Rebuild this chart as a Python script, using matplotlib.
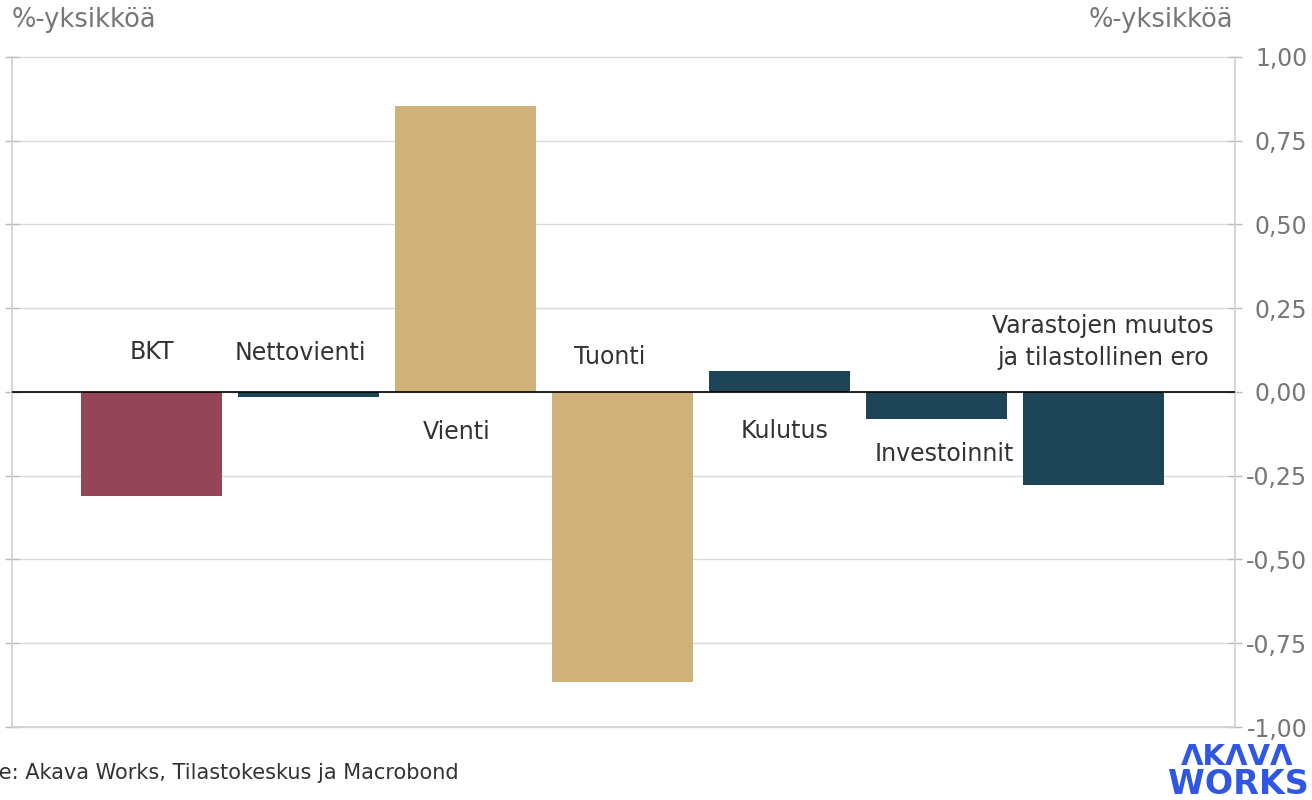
import matplotlib
matplotlib.use("Agg")
import matplotlib.pyplot as plt

categories = ["BKT", "Nettovienti", "Vienti", "Tuonti", "Kulutus", "Investoinnit",
              "Varastojen muutos\nja tilastollinen ero"]
values = [-0.31, -0.015, 0.854, -0.866, 0.063, -0.08, -0.278]
colors = ["#944558", "#1D4557", "#CFB27A", "#CFB27A", "#1D4557", "#1D4557", "#1D4557"]
yticks = [1.0, 0.75, 0.5, 0.25, 0.0, -0.25, -0.5, -0.75, -1.0]
ytick_labels = ["1,00", "0,75", "0,50", "0,25", "0,00", "-0,25", "-0,50", "-0,75", "-1,00"]
# label placement: (x offset, y value, vertical alignment)
label_pos = [(0.0, 0.085, "bottom"), (-0.05, 0.08, "bottom"), (-0.06, -0.085, "top"),
             (-0.08, 0.07, "bottom"), (0.03, -0.08, "top"), (0.05, -0.15, "top"),
             (0.06, 0.065, "bottom")]

plt.rcParams['font.family'] = ['DejaVu Sans']
fig = plt.figure(figsize=(13.12, 8), dpi=100)
W, H = 1312, 800
x0, x1 = 12, 1235
y0, y1 = 57, 727
ax = fig.add_axes([x0 / W, 1 - y1 / H, (x1 - x0) / W, (y1 - y0) / H])

xs = list(range(len(categories)))
ax.bar(xs, values, width=0.9, color=colors, zorder=2)
ax.set_xlim(-0.89, 6.9)
ax.set_ylim(-1.0, 1.0)
ax.axhline(0, color="black", lw=1.2, zorder=3)

for x, lab, (dx, yv, va) in zip(xs, categories, label_pos):
    ax.text(x + dx, yv, lab, ha="center", va=va, fontsize=17, color="#333333",
            linespacing=1.45, zorder=4)

ax.set_yticks(yticks)
ax.set_yticklabels(ytick_labels, ha="right")
ax.yaxis.tick_right()
ax.tick_params(axis="y", which="both", direction="inout", length=10, width=1,
               color="#bbbbbb", labelsize=17, labelcolor="#777777", pad=47,
               left=True)
ax.tick_params(axis="x", bottom=False, labelbottom=False)
ax.grid(axis="y", color="#d9d9d9", lw=1, zorder=0)
for gl in ax.get_ygridlines():
    gl.set_clip_on(False)
ax.spines["top"].set_visible(False)
ax.spines["bottom"].set_color("#d0d0d0")
ax.spines["bottom"].set_linewidth(1.2)
for s in ["left", "right"]:
    ax.spines[s].set_color("#d0d0d0")
    ax.spines[s].set_linewidth(1.2)

fig.text(12 / W, 1 - 20 / H, "%-yksikköä", ha="left", va="center", fontsize=18.5, color="#777777")
fig.text(1233 / W, 1 - 20 / H, "%-yksikköä", ha="right", va="center", fontsize=18.5, color="#777777")
fig.text(-52 / W, 1 - 773 / H, "Lähde: Akava Works, Tilastokeskus ja Macrobond", ha="left",
         va="center", fontsize=15, color="#333333")
fig.text(1237 / W, 1 - 757 / H, "ΛKΛVΛ", ha="center", va="center", fontsize=21,
         fontweight="bold", color="#2F57E4")
fig.text(1238 / W, 1 - 785 / H, "WORKS", ha="center", va="center", fontsize=24,
         fontweight="bold", color="#2F57E4")

fig.savefig("out.png", dpi=100)
